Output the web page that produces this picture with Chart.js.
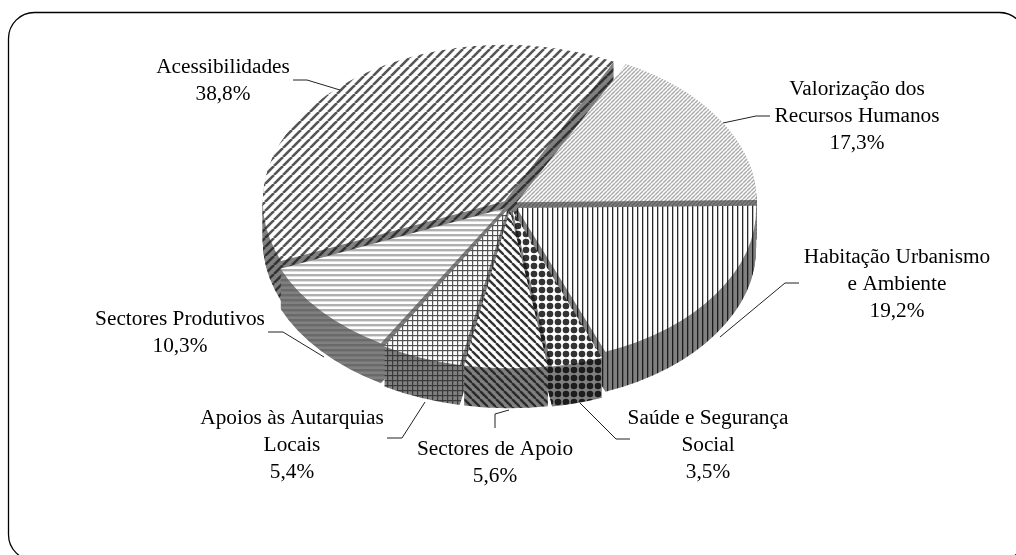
<!DOCTYPE html>
<html><head><meta charset="utf-8">
<style>html,body{margin:0;padding:0;background:#fff}canvas{display:block}</style>
<script src="https://cdn.jsdelivr.net/npm/chart.js@4"></script>
</head><body>
<div style="width:1016px;height:555px"><canvas id="c" width="1016" height="555"></canvas></div>
<script>
const categories = [['Valorização dos','Recursos Humanos'],['Habitação Urbanismo','e Ambiente'],['Saúde e Segurança','Social'],['Sectores de Apoio'],['Apoios às Autarquias','Locais'],['Sectores Produtivos'],['Acessibilidades']];
const values = [17.3,19.2,3.5,5.6,5.4,10.3,38.8];
const labelCentres = [[857,89],[897,257],[708,418],[495,449],[292,418],[180,319],[223,67]];
const leaders = [
 [[723,123],[756,116],[770,116]],
 [[720,337],[785,283],[799,283]],
 [[580,403],[616,439],[630,439]],
 [[509,410],[495,414],[495,428]],
 [[425,402],[402,438],[387,438]],
 [[324,357],[283,332],[268,332]],
 [[340,90],[307,80],[293,80]]
];
const drawOrder = [6,0,5,1,4,2,3];
const K = 0.647, CY = 205, DEPTH = 40;

function tile(w,h,bg,paint){
  const t=document.createElement('canvas');t.width=w;t.height=h;
  const x=t.getContext('2d');
  if(bg){x.fillStyle=bg;x.fillRect(0,0,w,h);}
  paint(x);
  const p=x.createPattern(t,'repeat');
  p.setTransform(new DOMMatrix().scale(1,1/K));
  return p;
}
function diag(p,c,lw,up){return x=>{x.strokeStyle=c;x.lineWidth=lw;
  for(let i=-2;i<=2;i++){x.beginPath();
    if(up){x.moveTo(i*p,p);x.lineTo(i*p+p,0);}else{x.moveTo(i*p,0);x.lineTo(i*p+p,p);}
    x.stroke();}};}
function vert(p,c,w){return x=>{x.fillStyle=c;x.fillRect(0,0,w,p);};}
function horiz(p,c,w){return x=>{x.fillStyle=c;x.fillRect(0,0,p,w);};}
function grid(p,c,w){return x=>{x.fillStyle=c;x.fillRect(0,0,w,p);x.fillRect(0,0,p,w);};}
function dots(p,c,r){return x=>{x.fillStyle=c;x.beginPath();x.arc(p/2,p/2,r,0,7);x.fill();};}
const G='#808080';
const topPats=[
 tile(4,4,'#fff',diag(4,'#a8a8a8',1.4,true)),
 tile(5,5,'#fff',vert(5,'#2a2a2a',1.3)),
 tile(8,8,'#fff',dots(8,'#333',3.3)),
 tile(8,8,'#fff',diag(8,'#333',2.4,false)),
 tile(5,5,'#fff',grid(5,'#555',1.2)),
 tile(5,5,'#fff',horiz(5,'#b0b0b0',2.4)),
 tile(9,9,'#fff',diag(9,'#555',2.6,true))
];
const sidePats=[
 tile(4,4,G,diag(4,'#606060',1.4,true)),
 tile(5,5,G,vert(5,'#1c1c1c',1.3)),
 tile(8,8,G,dots(8,'#1c1c1c',3.3)),
 tile(8,8,G,diag(8,'#2a2a2a',2.4,false)),
 tile(5,5,G,grid(5,'#3a3a3a',1.2)),
 tile(5,5,G,horiz(5,'#6a6a6a',2.4)),
 tile(9,9,G,diag(9,'#333',2.6,true))
];

const pie3d={
 id:'pie3d',
 beforeDatasetsDraw(chart){
  const ctx=chart.ctx, arcs=chart.getDatasetMeta(0).data;
  const cy0=(chart.chartArea.top+chart.chartArea.bottom)/2;
  ctx.save();
  ctx.imageSmoothingEnabled=false;
  ctx.translate(0,CY);ctx.scale(1,K);ctx.translate(0,-cy0);
  drawOrder.forEach(i=>{
    const a=arcs[i], o=a.options, sp=sidePats[i];
    a.options=Object.create(o);a.options.backgroundColor=sp;
    for(let d=DEPTH;d>=1;d--){
      sp.setTransform(new DOMMatrix().translate(0,-d/K).scale(1,1/K));
      ctx.save();ctx.translate(0,d/K);a.draw(ctx);ctx.restore();
    }
    a.options=o;
    a.draw(ctx);
  });
  ctx.restore();
  return false;
 },
 afterDraw(chart){
  const ctx=chart.ctx;
  ctx.save();
  ctx.strokeStyle='#000';ctx.lineWidth=1.3;
  ctx.beginPath();ctx.roundRect(8.5,12.5,1017,548,26);ctx.stroke();
  ctx.lineWidth=1;ctx.strokeStyle='#222';
  leaders.forEach(l=>{ctx.beginPath();l.forEach((p,i)=>i?ctx.lineTo(p[0],p[1]):ctx.moveTo(p[0],p[1]));ctx.stroke();});
  ctx.fillStyle='#000';ctx.font='21.3px "Liberation Serif"';ctx.textAlign='center';ctx.textBaseline='middle';
  categories.forEach((c,i)=>{
    const [x,y]=labelCentres[i];
    const lines=[...c,values[i].toFixed(1).replace('.',',')+'%'];
    lines.forEach((t,j)=>ctx.fillText(t,x,y+j*27.2));
  });
  ctx.restore();
 }
};
new Chart(document.getElementById('c'),{
 type:'pie',
 data:{labels:categories.map(c=>c.join(' ')),datasets:[{data:values,backgroundColor:topPats,borderWidth:0,offset:32}]},
 options:{responsive:false,animation:false,rotation:27,radius:239,
  layout:{padding:{left:4,right:0,top:0,bottom:0}},
  plugins:{legend:{display:false},tooltip:{enabled:false}}},
 plugins:[pie3d]
});
</script></body></html>
